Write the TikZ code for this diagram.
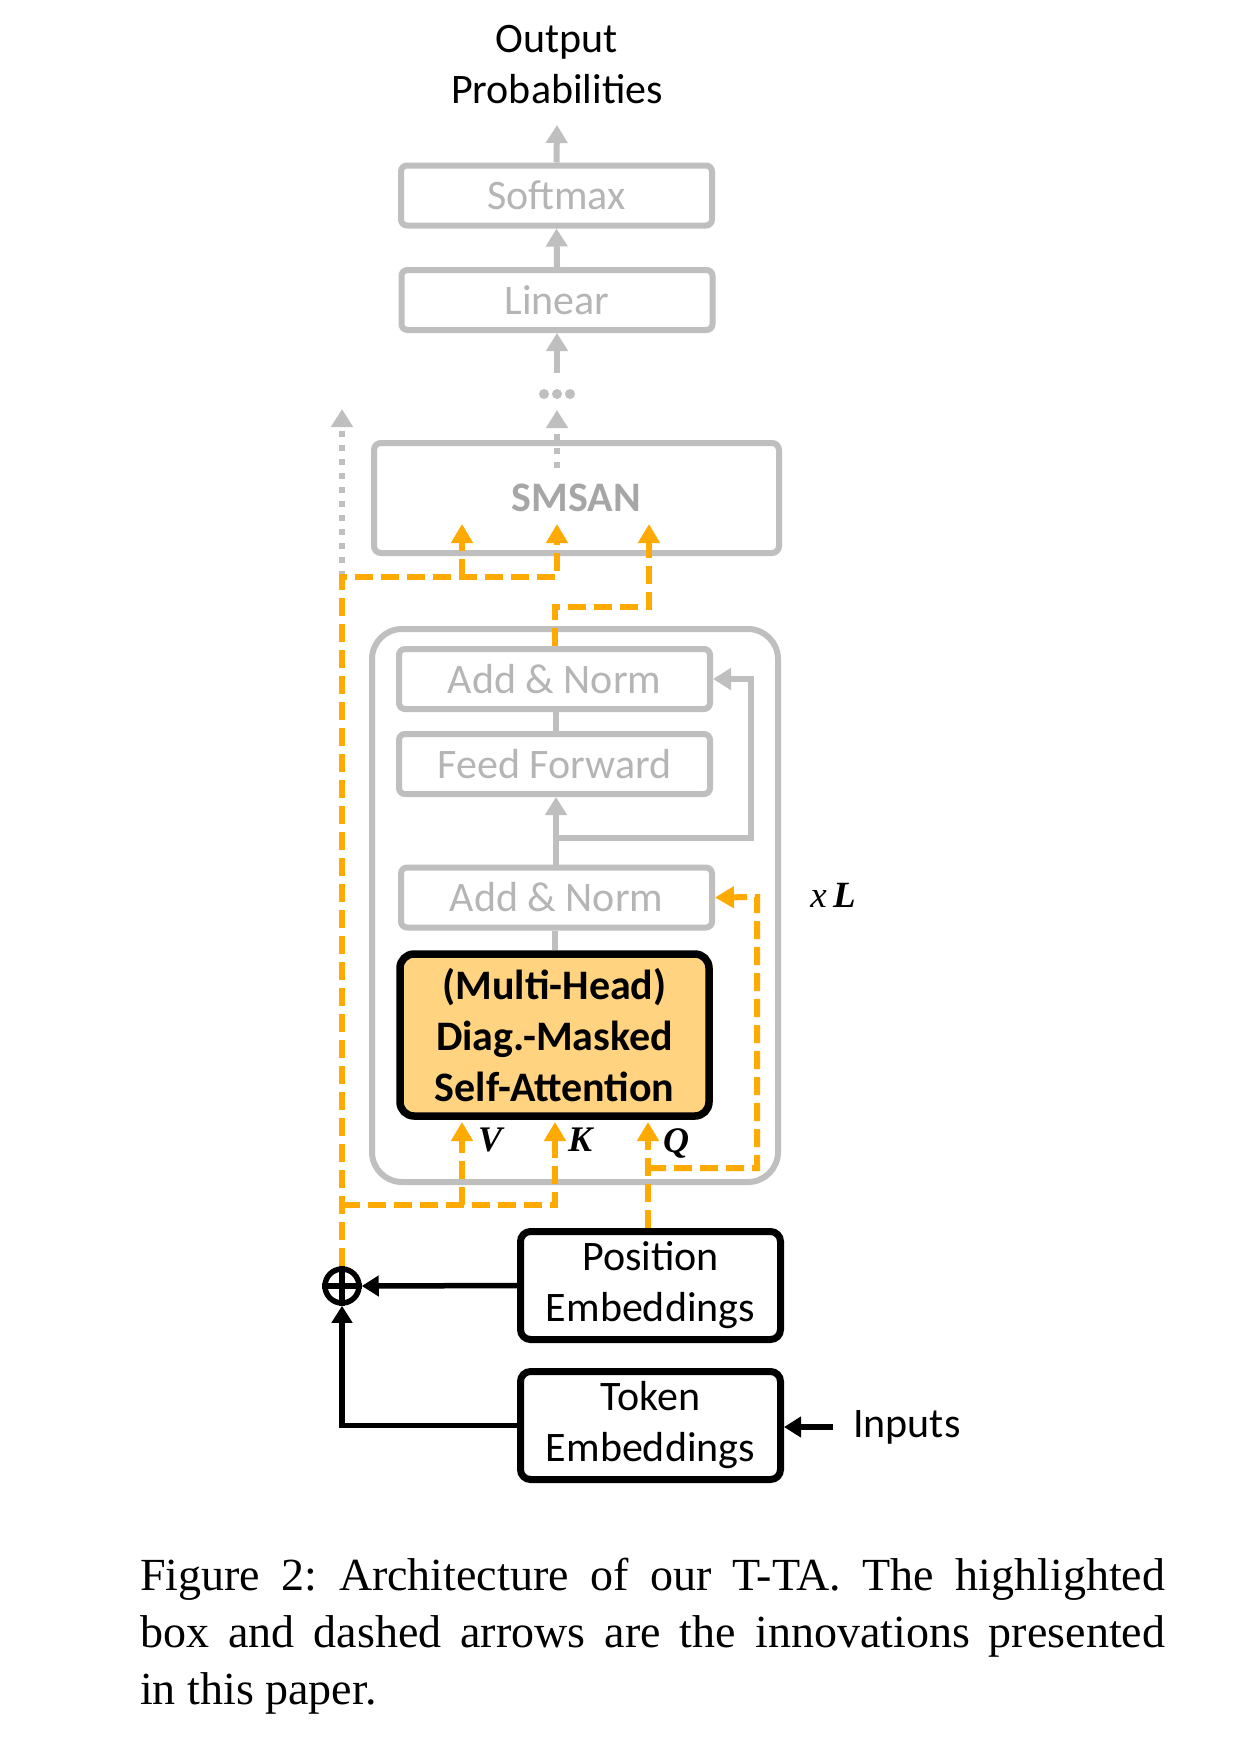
\documentclass[tikz,border=0pt]{standalone}
\usepackage{fontspec}
\setmainfont{Liberation Serif}
\newfontfamily\calib{Carlito}
\usetikzlibrary{arrows.meta}
\definecolor{graylc}{HTML}{BFBFBF}
\definecolor{graytc}{HTML}{B5B5B5}
\definecolor{graydk}{HTML}{A6A6A6}
\definecolor{orangec}{HTML}{FFAA00}
\definecolor{attnfill}{HTML}{FFD37F}
\newcommand\cfont{\calib\fontsize{42}{51}\selectfont}
\begin{document}
\begin{tikzpicture}[x=1pt,y=-1pt,
  gbox/.style={draw=graylc, line width=6pt, rounded corners=6pt, text=graytc, font=\cfont, inner sep=0pt, minimum width=311pt, minimum height=60pt},
  bbox/.style={draw=black, line width=7pt, rounded corners=10pt, font=\cfont, align=center, inner sep=0pt, minimum width=260pt, minimum height=108pt},
  gconn/.style={draw=graylc, line width=6pt},
  garrow/.style={draw=graylc, line width=6pt, -{Triangle[width=21pt,length=18pt]}},
  gdot/.style={draw=graylc, line width=6pt, dash pattern=on 6pt off 8pt, -{Triangle[width=21pt,length=18pt]}},
  oarrow/.style={draw=orangec, line width=6pt, dash pattern=on 18pt off 8pt, -{Triangle[width=21pt,length=19pt]}},
  barrow/.style={draw=black, line width=5.5pt, -{Triangle[width=20pt,length=17pt]}},
  vkq/.style={font=\fontsize{36}{40}\selectfont\bfseries\itshape, inner sep=0pt}
]
\useasboundingbox[fill=white] (0,0) rectangle (1246,1758);

% top part
\node[font=\cfont, align=center, inner sep=0pt] (out) at (557,65) {Output\\Probabilities};
\node[gbox] (soft) at (556.5,195.5) {Softmax};
\node[gbox] (lin) at (557,300) {Linear};
\coordinate (otip) at (557,125);
\coordinate (dotsbase) at (557,373);
\node[inner sep=0pt, minimum width=36pt, minimum height=10pt] (dots) at (557,394) {};
\fill[graylc] (544,394) circle (5pt) (557,394) circle (5pt) (570,394) circle (5pt);
\draw[garrow] (soft.north) -- (otip);
\draw[garrow] (lin.north) -- (soft.south);
\draw[garrow] (dotsbase) -- (lin.south);

% SMSAN
\node[draw=graylc, line width=6pt, rounded corners=7pt, minimum width=405pt, minimum height=110pt, inner sep=0pt, text=graydk, font=\cfont\bfseries] (smsan) at (576.5,498) {SMSAN};
\coordinate (smtop) at (557,410);
\coordinate (smin) at (557,468);
\draw[gdot] (smin) -- (smtop);
\coordinate (lefttop) at (342,409);
\coordinate (leftj) at (342,577);
\draw[gdot] (leftj) -- (lefttop);

% outer block
\node[draw=graylc, line width=6pt, rounded corners=30pt, minimum width=406pt, minimum height=553pt, inner sep=0pt] (outer) at (575,905.5) {};
\node[gbox] (an1) at (554.5,679) {Add \& Norm};
\node[gbox] (ff) at (554.5,764) {Feed Forward};
\node[gbox] (an2) at (556.5,897.5) {Add \& Norm};
\node[draw=black, fill=attnfill, line width=7.5pt, rounded corners=14pt, minimum width=309pt, minimum height=162pt, inner sep=0pt, align=center, font=\calib\bfseries\fontsize{42}{51}\selectfont] (attn) at (554.5,1035) {(Multi-Head)\\Diag.-Masked\\Self-Attention};
\node[font=\fontsize{37}{40}\selectfont, inner sep=0pt] (xl) at (833,895) {\itshape x\,\bfseries L};

\draw[gconn] (an1.south -| 556,0) -- (ff.north -| 556,0);
\draw[garrow] (an2.north -| 556,0) -- (ff.south -| 556,0);
\coordinate (resj) at (556,838);
\draw[garrow] (resj) -| (751,679) -- (an1.east);
\draw[gconn] (attn.north -| 555,0) -- (an2.south -| 555,0);

% embeddings
\node[bbox] (pos) at (650.5,1285.5) {Position\\Embeddings};
\node[bbox] (tok) at (650.5,1425.5) {Token\\Embeddings};
\node[draw=black, line width=5.5pt, circle, minimum size=34pt, inner sep=0pt] (plus) at (342,1286) {};
\draw[black, line width=5.5pt] (plus.north) -- (plus.south) (plus.west) -- (plus.east);
\draw[barrow] (pos.west) -- (plus.east);
\draw[barrow] (tok.west) -| (plus.south);
\coordinate (inp) at (833,1427);
\draw[barrow] (inp) -- (tok.east |- inp);
\node[font=\cfont, anchor=west, inner sep=0pt] (inputs) at (853,1427) {Inputs};

% orange dashed arrows
\coordinate (s1) at (462,524);
\coordinate (s2) at (557,524);
\coordinate (s3) at (649,524);
\coordinate (av) at (462,1122);
\coordinate (ak) at (555,1122);
\coordinate (aq) at (648,1122);
\draw[oarrow] (plus.north) |- (557,577) -- (s2);
\draw[oarrow] (462,577) -- (s1);
\draw[oarrow] (an1.north -| 555,0) -- (555,607) -| (s3);
\draw[oarrow] (342,1205) -| (ak);
\draw[oarrow] (462,1205) -- (av);
\draw[oarrow] (aq |- pos.north) -- (aq);
\draw[oarrow] (648,1168) -| (757,897) -- (an2.east);

\node[vkq] (lv) at (490,1140) {V};
\node[vkq] (lk) at (580,1140) {K};
\node[vkq] (lq) at (676,1143) {Q};

% caption
\node[anchor=north west, text width=1025pt, align=justify, inner sep=0pt, font=\fontsize{46}{57}\selectfont\frenchspacing] (cap) at (140,1558)
{Figure 2: Architecture of our T-TA. The highlighted\linebreak box and dashed arrows are the innovations presented\linebreak in this paper.};
\end{tikzpicture}
\end{document}
